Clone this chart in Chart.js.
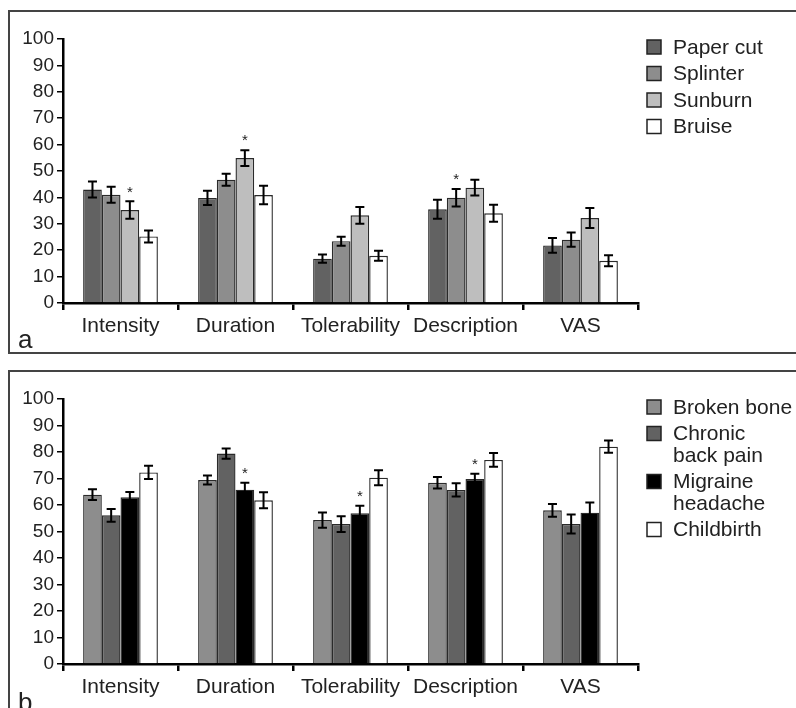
<!DOCTYPE html>
<html>
<head>
<meta charset="utf-8">
<script src="https://cdn.jsdelivr.net/npm/chart.js@4.4.1/dist/chart.umd.min.js"></script>
<style>
  html, body { margin: 0; padding: 0; background: #fff; }
  body { width: 796px; height: 708px; position: relative; overflow: hidden; }
  .box { position: absolute; left: 8px; width: 800px; border: 2px solid #444; border-right: none; box-sizing: border-box; }
  .wrap { position: absolute; left: 10px; width: 786px; }
</style>
</head>
<body>
<div class="box" style="top:10px;height:344px"></div>
<div class="box" style="top:370px;height:400px"></div>
<div class="wrap" style="top:12px;height:340px"><canvas id="chartA"></canvas></div>
<div class="wrap" style="top:372px;height:336px"><canvas id="chartB"></canvas></div>
<script>
// categories shared by both panels
var categories = ['Intensity', 'Duration', 'Tolerability', 'Description', 'VAS'];
var yTicks = [0, 10, 20, 30, 40, 50, 60, 70, 80, 90, 100];

// panel a
var paperCut = [43, 39.8, 16.8, 35.5, 21.8];
var paperCutErr = [3, 2.7, 1.6, 3.6, 2.8];
var splinter = [41, 46.7, 23.4, 39.9, 24];
var splinterErr = [3, 2.3, 1.7, 3.3, 2.7];
var sunburn = [35.2, 54.9, 33.2, 43.7, 32.2];
var sunburnErr = [3.3, 3, 3.2, 3, 3.8];
var bruise = [25.2, 40.9, 17.9, 34, 16];
var bruiseErr = [2.3, 3.5, 1.9, 3.2, 2.1];
var legendA = [['Paper cut'], ['Splinter'], ['Sunburn'], ['Bruise']];
var starsA = [[2, 0], [2, 1], [1, 3]]; // [dataset, category]

// panel b
var brokenBone = [63.9, 69.4, 54.3, 68.4, 58];
var brokenBoneErr = [2, 1.7, 2.9, 2.2, 2.4];
var backPain = [56.1, 79.4, 52.8, 65.7, 52.8];
var backPainErr = [2.4, 1.9, 3, 2.5, 3.6];
var migraine = [62.9, 65.8, 56.9, 69.8, 57.1];
var migraineErr = [2, 2.6, 2.8, 2, 3.8];
var childbirth = [72.3, 61.8, 70.3, 77, 82];
var childbirthErr = [2.5, 3, 2.8, 2.6, 2.3];
var legendB = [['Broken bone'], ['Chronic', 'back pain'], ['Migraine', 'headache'], ['Childbirth']];
var starsB = [[2, 1], [2, 2], [2, 3]];

var FONT = '"Liberation Sans", Arial, sans-serif';
var INK = '#222';

// error bars, stars, legend and panel letter
var panelPlugin = {
    id: 'panel',
    afterDatasetsDraw: function(chart, args, opts) {
        var ctx = chart.ctx;
        var y = chart.scales.y;
        ctx.save();
        ctx.strokeStyle = '#000';
        ctx.lineWidth = 2;
        chart.data.datasets.forEach(function(ds, i) {
            var meta = chart.getDatasetMeta(i);
            meta.data.forEach(function(bar, j) {
                var v = ds.data[j], e = ds.errors[j];
                var top = y.getPixelForValue(v + e);
                var bot = y.getPixelForValue(v - e);
                ctx.beginPath();
                ctx.moveTo(bar.x, top); ctx.lineTo(bar.x, bot);
                ctx.moveTo(bar.x - 4.5, top); ctx.lineTo(bar.x + 4.5, top);
                ctx.moveTo(bar.x - 4.5, bot); ctx.lineTo(bar.x + 4.5, bot);
                ctx.stroke();
            });
        });
        // significance stars
        ctx.fillStyle = INK;
        ctx.font = '15px ' + FONT;
        ctx.textAlign = 'center';
        ctx.textBaseline = 'middle';
        opts.stars.forEach(function(s) {
            var ds = chart.data.datasets[s[0]];
            var bar = chart.getDatasetMeta(s[0]).data[s[1]];
            var top = y.getPixelForValue(ds.data[s[1]] + ds.errors[s[1]]);
            ctx.fillText('*', bar.x, top - 9);
        });
        ctx.restore();
    },
    afterDraw: function(chart, args, opts) {
        var ctx = chart.ctx;
        ctx.save();
        // legend
        var x0 = chart.chartArea.right + 9;
        var yc = 35;
        ctx.font = '21px ' + FONT;
        ctx.textAlign = 'left';
        ctx.textBaseline = 'middle';
        opts.legend.forEach(function(lines, i) {
            var ds = chart.data.datasets[i];
            ctx.fillStyle = ds.backgroundColor;
            ctx.fillRect(x0, yc - 7, 14, 14);
            ctx.strokeStyle = '#222';
            ctx.lineWidth = 1.5;
            ctx.strokeRect(x0, yc - 7, 14, 14);
            ctx.fillStyle = INK;
            lines.forEach(function(t, k) {
                ctx.fillText(t, x0 + 26, yc + k * 21.5 + 1);
            });
            yc += 26.5 + (lines.length - 1) * 21.5;
        });
        // panel letter
        ctx.font = '26px ' + FONT;
        ctx.textBaseline = 'alphabetic';
        ctx.fillText(opts.letter, 8, opts.letterY);
        ctx.restore();
    }
};

function makeChart(id, sets, legend, stars, letter, letterY, xHeight) {
    return new Chart(document.getElementById(id), {
        type: 'bar',
        data: {
            labels: categories,
            datasets: sets.map(function(s) {
                return {
                    label: s[0],
                    data: s[1],
                    errors: s[2],
                    backgroundColor: s[3],
                    borderColor: '#2a2a2a',
                    borderWidth: 1.4,
                    categoryPercentage: 0.65,
                    barPercentage: 1.0
                };
            })
        },
        options: {
            responsive: true,
            maintainAspectRatio: false,
            animation: false,
            layout: { padding: { left: 0, top: 27, right: 158, bottom: 0 } },
            plugins: {
                legend: { display: false },
                tooltip: { enabled: false },
                panel: { legend: legend, stars: stars, letter: letter, letterY: letterY }
            },
            scales: {
                x: {
                    grid: { offset: true, drawOnChartArea: false, drawTicks: true, tickLength: 7, color: '#000', lineWidth: 2.5 },
                    border: { display: true, color: '#000', width: 2.5 },
                    ticks: { color: INK, font: { family: FONT, size: 21 }, padding: 4, maxRotation: 0 },
                    afterFit: function(s) { s.height = xHeight; }
                },
                y: {
                    min: 0,
                    max: 100,
                    afterBuildTicks: function(s) { s.ticks = yTicks.map(function(v) { return { value: v }; }); },
                    grid: { drawOnChartArea: false, drawTicks: true, tickLength: 6, color: '#000', lineWidth: 1.5 },
                    border: { display: true, color: '#000', width: 2.5 },
                    ticks: { color: INK, font: { family: FONT, size: 19 }, padding: 3 },
                    afterFit: function(s) { s.width = 53; }
                }
            }
        },
        plugins: [panelPlugin]
    });
}

makeChart('chartA', [
    ['Paper cut', paperCut, paperCutErr, '#626262'],
    ['Splinter', splinter, splinterErr, '#8d8d8d'],
    ['Sunburn', sunburn, sunburnErr, '#bebebe'],
    ['Bruise', bruise, bruiseErr, '#ffffff']
], legendA, starsA, 'a', 336, 49);

makeChart('chartB', [
    ['Broken bone', brokenBone, brokenBoneErr, '#8d8d8d'],
    ['Chronic back pain', backPain, backPainErr, '#626262'],
    ['Migraine headache', migraine, migraineErr, '#000000'],
    ['Childbirth', childbirth, childbirthErr, '#ffffff']
], legendB, starsB, 'b', 339, 44);
</script>
</body>
</html>
